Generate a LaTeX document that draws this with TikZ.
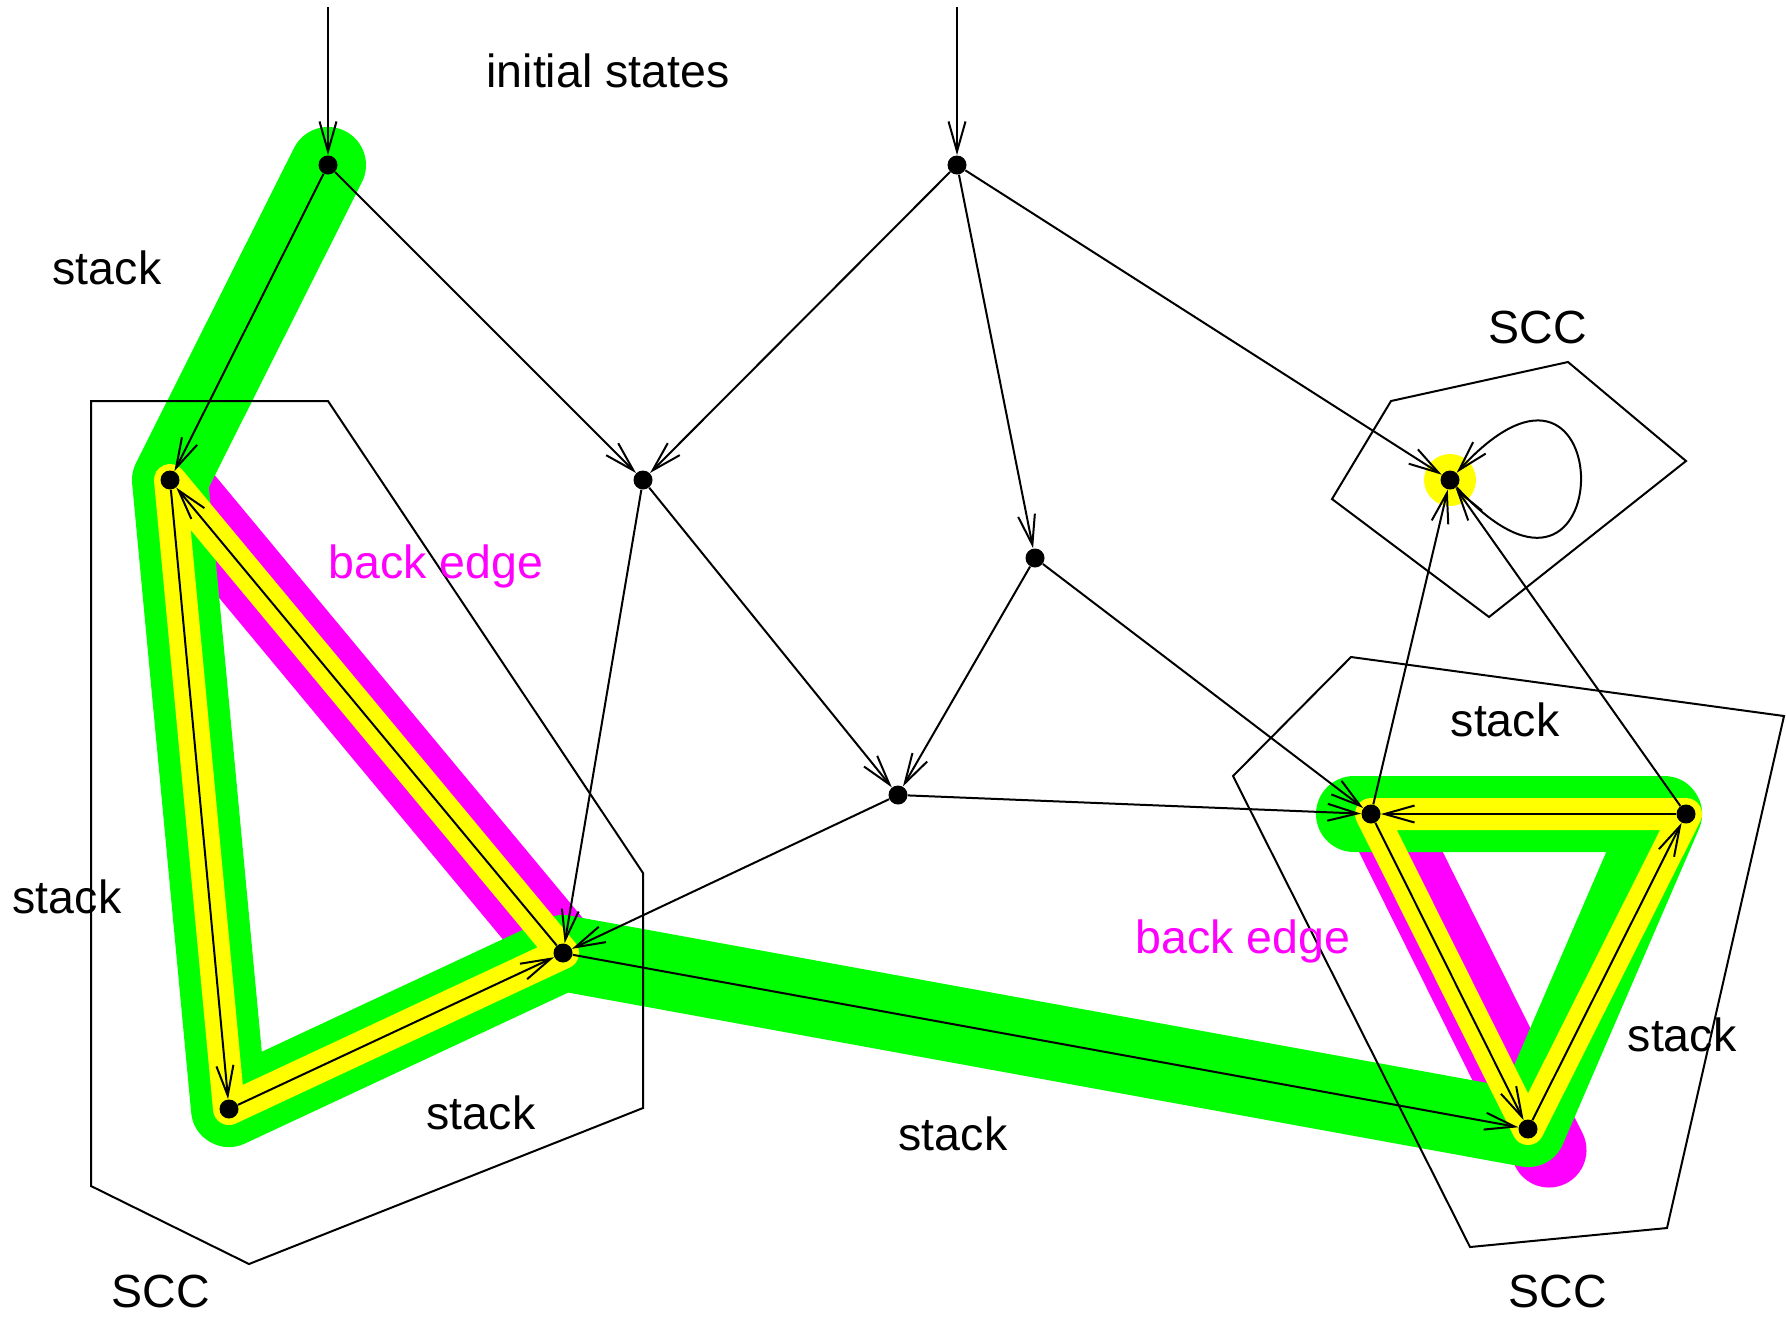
\documentclass[tikz,border=0pt]{standalone}
\usepackage{fontspec}
\setmainfont{Liberation Sans}
\usetikzlibrary{arrows.meta,backgrounds}
\definecolor{grn}{RGB}{0,255,0}
\definecolor{yel}{RGB}{255,255,0}
\definecolor{mag}{RGB}{255,0,255}
\begin{document}
\begin{tikzpicture}[x=0.5pt,y=-0.5pt,
  dot/.style={circle,fill=black,inner sep=0pt,minimum size=9.5pt},
  edge/.style={line width=1pt,-{Straight Barb[length=15pt,width=8.5pt]}},
  sccline/.style={line width=1pt,line join=miter},
  greenband/.style={draw=grn,line width=38pt,line cap=round,line join=round},
  yelband/.style={draw=yel,line width=16pt,line cap=round,line join=round},
  magband/.style={draw=mag,line width=37.5pt,line cap=round,line join=round},
  lbl/.style={anchor=base,inner sep=0pt,font=\fontsize{23.25pt}{28pt}\selectfont},
  maglbl/.style={lbl,text=mag}
]
\useasboundingbox (0,0) rectangle (1786,1319);
% states
\node[dot] (A) at (328,165) {};
\node[dot] (B) at (170,480) {};
\node[dot] (C) at (229,1109) {};
\node[dot] (D) at (563,953) {};
\node[dot] (E) at (957,165) {};
\node[dot] (F) at (643,480) {};
\node[dot] (G) at (1035,558) {};
\node[dot] (H) at (898,795) {};
\node[dot] (I) at (1450,480) {};
\node[dot] (J) at (1371,814) {};
\node[dot] (K) at (1686,814) {};
\node[dot] (L) at (1528,1129) {};
\coordinate (s1) at (328,7);
\coordinate (s2) at (957,7);
\coordinate (gK) at (1664,814);
\coordinate (gEnd) at (1354,814);
\coordinate (mJ) at (1384,818);
\coordinate (mL) at (1549,1150);
% highlight bands
\begin{scope}[on background layer]
  \draw[magband] (B.center) -- (D.center);
  \draw[magband] (mJ) -- (mL);
  \draw[greenband] (A.center) -- (B.center) -- (C.center) -- (D.center) -- (L.center) -- (gK) -- (gEnd);
  \draw[yelband] (B.center) -- (C.center) -- (D.center) -- cycle;
  \draw[yelband] (J.center) -- (L.center) -- (K.center) -- cycle;
  \fill[yel] (I.center) circle (13pt);
\end{scope}
% SCC outlines
\draw[sccline] (91,401) -- (328,401) -- (643,873) -- (643,1108) -- (249,1264) -- (91,1186) -- cycle;
\draw[sccline] (1391,401) -- (1568,362) -- (1686,461) -- (1489,617) -- (1332,499) -- cycle;
\draw[sccline] (1351,657) -- (1784,716) -- (1667,1228) -- (1470,1247) -- (1233,776) -- cycle;
% transitions
\draw[edge] (s1) -- (A);
\draw[edge] (s2) -- (E);
\draw[edge] (A) -- (B);
\draw[edge] (A) -- (F);
\draw[edge] (E) -- (F);
\draw[edge] (E) -- (G);
\draw[edge] (E) -- (I);
\draw[edge] (F) -- (D);
\draw[edge] (F) -- (H);
\draw[edge] (G) -- (H);
\draw[edge] (G) -- (J);
\draw[edge] (H) -- (D);
\draw[edge] (H) -- (J);
\draw[edge] (D) -- (L);
\draw[edge] (B) -- (C);
\draw[edge] (C) -- (D);
\draw[edge] (D) -- (B);
\draw[edge] (J) -- (L);
\draw[edge] (L) -- (K);
\draw[edge] (K) -- (J);
\draw[edge] (J) -- (I);
\draw[edge] (K) -- (I);
\draw[edge] (I) .. controls (1622,668) and (1622,292) .. (I);
% labels
\node[lbl] (t1) at (608,87) {initial states};
\node[lbl] (t2) at (107,284) {stack};
\node[lbl] (t3) at (1538,343) {SCC};
\node[maglbl] (t4) at (436,578) {back edge};
\node[lbl] (t5) at (67,913) {stack};
\node[lbl] (t6) at (481,1129) {stack};
\node[lbl] (t7) at (953,1150) {stack};
\node[lbl] (t8) at (161,1307) {SCC};
\node[maglbl] (t9) at (1243,953) {back edge};
\node[lbl] (t10) at (1505,736) {stack};
\node[lbl] (t11) at (1682,1051) {stack};
\node[lbl] (t12) at (1558,1307) {SCC};
\end{tikzpicture}
\end{document}
